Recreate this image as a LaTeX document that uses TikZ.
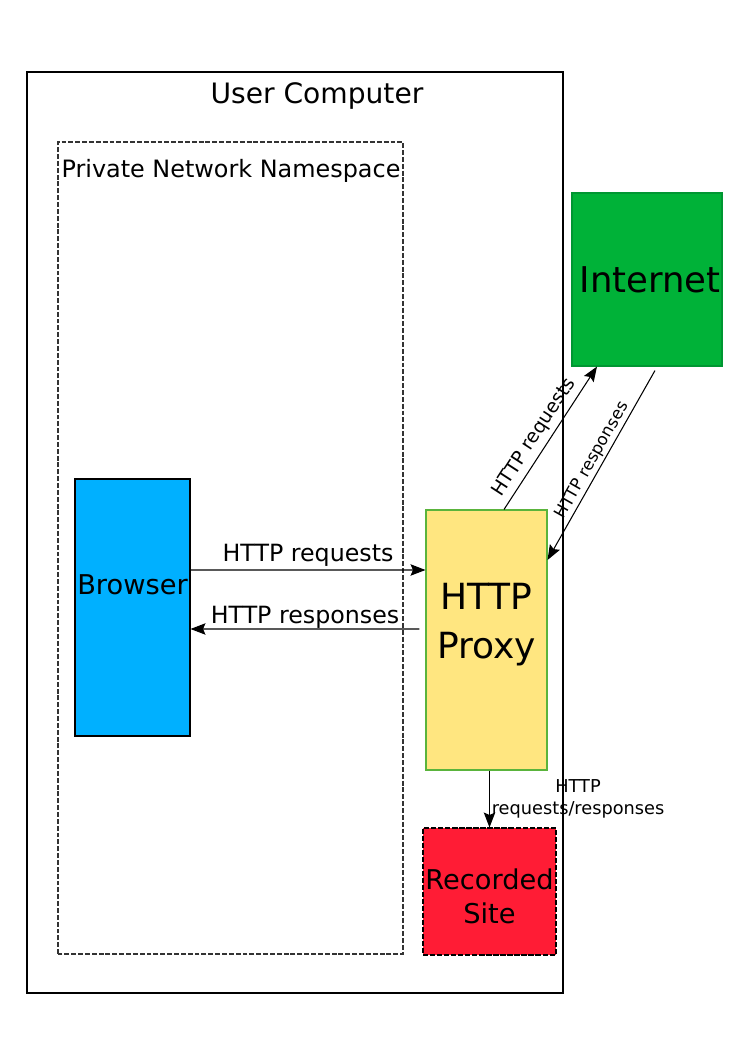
\documentclass[tikz,border=0pt]{standalone}
\usepackage{fontspec}
\setmainfont{DejaVu Sans}
\usepackage{tikz}
\usetikzlibrary{arrows.meta}
\definecolor{browserblue}{RGB}{0,176,255}
\definecolor{netgreen}{RGB}{0,178,56}
\definecolor{netedge}{RGB}{0,150,50}
\definecolor{proxyyellow}{RGB}{255,230,128}
\definecolor{proxyedge}{RGB}{90,180,60}
\definecolor{sitered}{RGB}{255,28,53}

\begin{document}
\begin{tikzpicture}[auto,
    box/.style={draw, line width=0.6pt, rectangle, inner sep=0pt},
    conn/.style={-{Stealth[length=8.5pt, width=6.5pt, inset=1.4pt]}, line width=0.6pt},
    lbl/.style={font=\fontsize{10.8}{13}\selectfont, inner sep=1.5pt}]
    \useasboundingbox (0, 0) rectangle (14.88, 21.04);
    \draw[line width=0.85pt] (0.54, 1.18) rectangle (11.26, 19.6);
    \node[font=\fontsize{16}{19}\selectfont] (usercomp) at (6.34, 19.12) {User Computer};
    \draw[line width=0.6pt, dash pattern=on 2.8pt off 1.1pt, black!80] (1.16, 1.96) rectangle (8.06, 18.2);
    \node[font=\fontsize{13.6}{16}\selectfont] (namespace) at (4.62, 17.62) {Private Network Namespace};
    \node[box, fill=browserblue, minimum width=2.3cm, minimum height=5.14cm,
        label={[font=\fontsize{15.5}{18}\selectfont, yshift=0.45cm]center:Browser}] (browser) at (2.65, 8.89) {};
    \node[box, draw=proxyedge, fill=proxyyellow, minimum width=2.42cm, minimum height=5.2cm,
        label={[font=\fontsize{20.5}{28}\selectfont, align=center, yshift=0.31cm]center:HTTP\\Proxy}] (proxy) at (9.73, 8.24) {};
    \node[box, draw=netedge, fill=netgreen, minimum width=3cm, minimum height=3.46cm,
        font=\fontsize{20.2}{24}\selectfont] (internet) at (12.94, 15.45) {\hspace{0.12cm}Internet};
    \node[box, fill=sitered, dash pattern=on 3pt off 1pt, minimum width=2.66cm, minimum height=2.54cm,
        label={[font=\fontsize{15.5}{19.5}\selectfont, align=center, yshift=-0.1cm]center:Recorded\\Site}] (site) at (9.79, 3.21) {};
    \draw[conn] ([yshift=0.75cm]browser.east) to node[above, font=\fontsize{13.5}{16}\selectfont, inner sep=1.5pt] {HTTP requests} ([yshift=1.4cm]proxy.west);
    \draw[conn] ([xshift=-0.12cm, yshift=0.22cm]proxy.west) to node[above, font=\fontsize{13.5}{16}\selectfont, inner sep=0pt] {HTTP responses} ([yshift=-0.43cm]browser.east);
    \draw[conn] ([xshift=0.35cm]proxy.north) to node[pos=0.45, sloped, above, lbl, inner sep=2.5pt] {HTTP requests} ([xshift=-1cm]internet.south);
    \draw[conn] ([xshift=0.16cm, yshift=-0.08cm]internet.south) to node[pos=0.5, sloped, above, font=\fontsize{9.4}{11}\selectfont, inner sep=1pt] {HTTP responses} ([yshift=1.6cm]proxy.east);
    \draw[conn] (site.north |- proxy.south) to node[right, align=center, font=\fontsize{10.1}{12.5}\selectfont, inner sep=1pt] {HTTP\\requests/responses} (site.north);
\end{tikzpicture}
\end{document}
